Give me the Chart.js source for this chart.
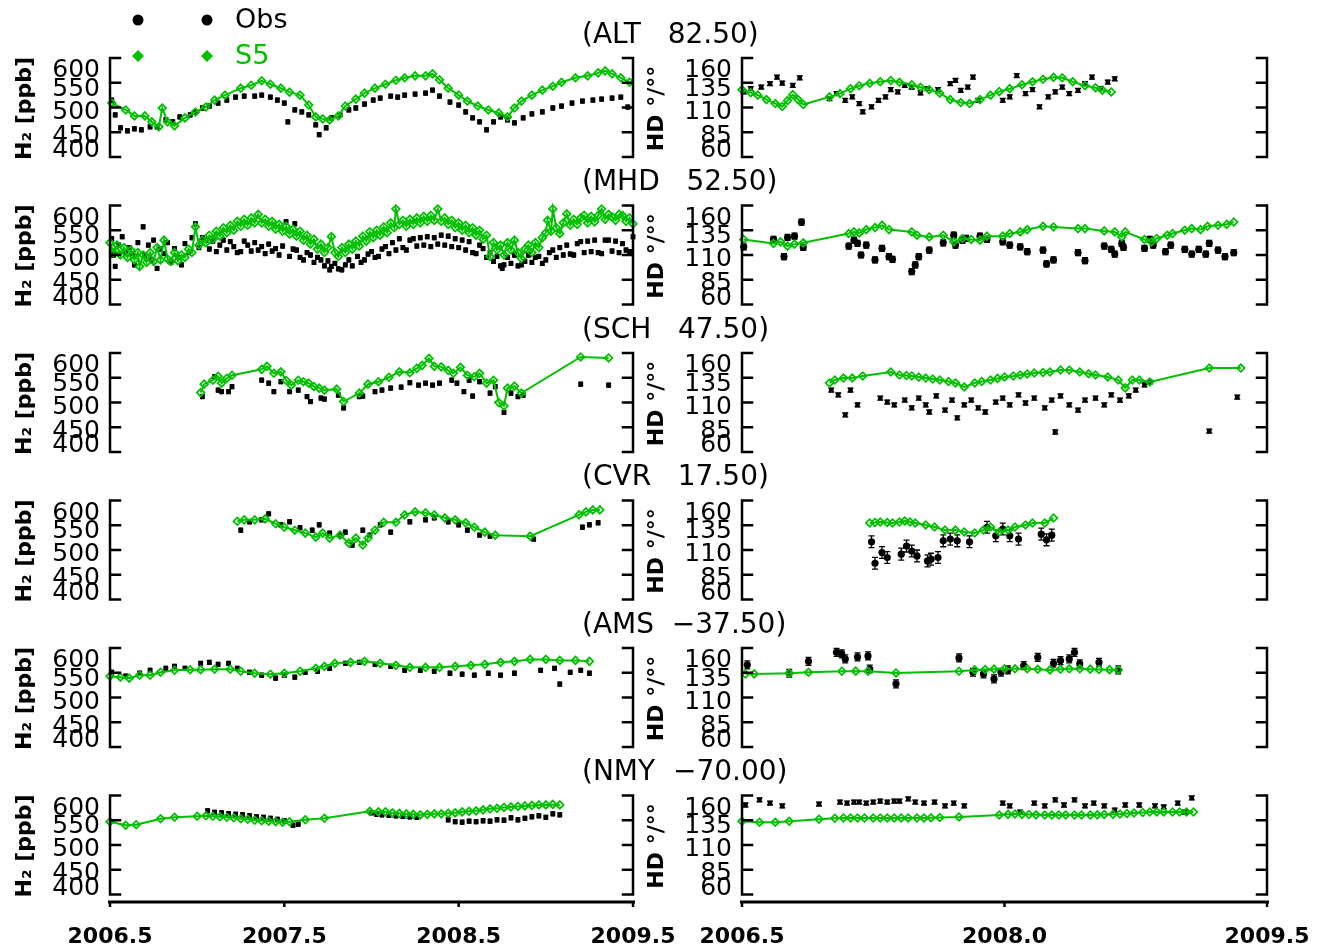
<!DOCTYPE html>
<html><head><meta charset="utf-8">
<script src="https://cdn.jsdelivr.net/npm/chart.js@4.4.1/dist/chart.umd.min.js"></script>
<style>
html,body{margin:0;padding:0;background:#fff;}
#wrap{position:relative;width:1326px;height:952px;overflow:hidden;background:#fff;}
#wrap canvas{position:absolute;left:0;top:0;}
</style>
</head><body><div id="wrap"></div>
<script>
// ---------- data ----------
const XMIN = 2006.5, XMAX = 2009.5;
const h2Ticks = [400, 450, 500, 550, 600];
const hdTicks = [60, 85, 110, 135, 160];
const xTicksLeft = [2006.5, 2007.5, 2008.5, 2009.5];
const xTicksRight = [2006.5, 2008.0, 2009.5];
const xTickLabelsLeft = ['2006.5', '2007.5', '2008.5', '2009.5'];
const xTickLabelsRight = ['2006.5', '2008.0', '2009.5'];
const stations = ['ALT', 'MHD', 'SCH', 'CVR', 'AMS', 'NMY'];
const latitudes = [82.50, 52.50, 47.50, 17.50, -37.50, -70.00];
const seriesNames = ['Obs', 'S5'];
const h2AxisTitle = 'H\u2082 [ppb]';
const hdAxisTitle = 'HD \u00b0/\u00b0\u00b0';
const h2ObsErr = [4, 4, 4, 4, 4, 4];
const hdObsErr = [2, 3, 2, 6, 4, 2];

// ALT
const ALT_H2_OBS = [[2006.51,515],[2006.53,485],[2006.56,459],[2006.60,453],[2006.64,457],[2006.68,455],[2006.73,461],[2006.77,461],[2006.82,475],[2006.86,471],[2006.90,481],[2006.96,485],[2006.99,491],[2007.03,499],[2007.07,503],[2007.12,509],[2007.17,515],[2007.22,521],[2007.27,523],[2007.33,523],[2007.37,525],[2007.42,521],[2007.46,515],[2007.50,509],[2007.52,471],[2007.56,495],[2007.60,491],[2007.64,485],[2007.68,465],[2007.70,445],[2007.74,459],[2007.77,479],[2007.82,485],[2007.87,495],[2007.91,499],[2007.96,507],[2008.01,515],[2008.05,519],[2008.11,523],[2008.15,521],[2008.19,525],[2008.25,527],[2008.31,529],[2008.35,535],[2008.39,523],[2008.45,511],[2008.50,505],[2008.54,491],[2008.58,479],[2008.62,471],[2008.66,455],[2008.70,471],[2008.74,481],[2008.78,475],[2008.82,469],[2008.87,479],[2008.92,487],[2008.98,491],[2009.04,499],[2009.09,503],[2009.15,509],[2009.21,513],[2009.27,515],[2009.32,517],[2009.38,519],[2009.43,521],[2009.47,501]];
const ALT_H2_S5 = [[2006.51,509],[2006.59,495],[2006.64,483],[2006.70,483],[2006.74,471],[2006.78,461],[2006.80,499],[2006.83,471],[2006.87,463],[2006.93,479],[2006.99,491],[2007.05,501],[2007.10,515],[2007.16,525],[2007.25,539],[2007.31,545],[2007.37,554],[2007.42,547],[2007.48,539],[2007.53,531],[2007.59,525],[2007.64,505],[2007.68,481],[2007.72,477],[2007.76,475],[2007.81,483],[2007.85,503],[2007.91,517],[2007.96,529],[2008.02,539],[2008.08,547],[2008.14,555],[2008.19,560],[2008.25,564],[2008.31,564],[2008.35,568],[2008.39,556],[2008.44,539],[2008.50,525],[2008.55,513],[2008.61,503],[2008.67,495],[2008.73,489],[2008.78,481],[2008.82,499],[2008.86,513],[2008.92,525],[2008.98,535],[2009.04,543],[2009.09,551],[2009.17,560],[2009.24,564],[2009.30,570],[2009.34,574],[2009.38,568],[2009.43,560],[2009.48,551]];
const ALT_HD_OBS = [[2006.51,125.7],[2006.55,129],[2006.61,130.7],[2006.66,134],[2006.70,140.7],[2006.73,134.7],[2006.79,132.3],[2006.83,140],[2007.00,119],[2007.04,124],[2007.09,117.3],[2007.13,120.7],[2007.17,114],[2007.19,105.7],[2007.24,110.7],[2007.28,117.3],[2007.32,120.7],[2007.35,128],[2007.39,125.7],[2007.43,132.3],[2007.47,130.7],[2007.52,124.7],[2007.56,129],[2007.62,128],[2007.69,134],[2007.72,137.3],[2007.75,127.3],[2007.79,130.7],[2007.82,140.7],[2007.85,117.3],[2007.99,117.3],[2008.03,120.7],[2008.07,142.3],[2008.12,124],[2008.16,128],[2008.20,110.7],[2008.25,120.7],[2008.29,125.7],[2008.33,130.7],[2008.37,124],[2008.42,127.3],[2008.46,134],[2008.50,140.7],[2008.55,129],[2008.59,135.7],[2008.63,139]];
const ALT_HD_S5 = [[2006.50,128],[2006.55,125],[2006.59,122.5],[2006.64,118],[2006.69,114],[2006.73,111],[2006.76,117],[2006.79,123],[2006.82,118],[2006.85,113],[2007.00,120.7],[2007.06,124],[2007.12,129],[2007.17,132],[2007.23,134.5],[2007.29,136],[2007.35,137.3],[2007.40,135.5],[2007.47,133],[2007.52,130.5],[2007.57,128],[2007.63,124.5],[2007.69,118],[2007.75,115],[2007.80,114],[2007.86,118],[2007.92,122.5],[2007.97,126],[2008.03,129],[2008.10,133],[2008.16,136],[2008.22,138.5],[2008.28,140.5],[2008.33,140],[2008.39,136],[2008.46,132],[2008.52,130],[2008.56,127.5],[2008.61,125.7]];

// MHD
const MHD_H2_OBS = [[2006.51,533],[2006.52,500],[2006.53,477],[2006.55,520],[2006.57,537],[2006.59,505],[2006.61,515],[2006.63,503],[2006.64,480],[2006.66,525],[2006.69,557],[2006.70,500],[2006.72,520],[2006.74,490],[2006.75,530],[2006.77,473],[2006.79,512],[2006.81,503],[2006.83,525],[2006.85,485],[2006.87,513],[2006.89,495],[2006.91,480],[2006.93,523],[2006.95,505],[2006.97,535],[2006.99,563],[2007.01,515],[2007.03,535],[2007.05,530],[2007.07,512],[2007.09,528],[2007.11,507],[2007.13,520],[2007.15,530],[2007.17,510],[2007.19,527],[2007.21,517],[2007.23,505],[2007.25,507],[2007.27,528],[2007.29,520],[2007.31,508],[2007.33,525],[2007.35,510],[2007.37,517],[2007.39,503],[2007.41,522],[2007.43,508],[2007.45,513],[2007.47,500],[2007.49,518],[2007.51,567],[2007.53,497],[2007.55,512],[2007.56,563],[2007.57,510],[2007.59,495],[2007.61,490],[2007.63,505],[2007.65,500],[2007.67,485],[2007.69,495],[2007.71,490],[2007.73,478],[2007.75,488],[2007.76,470],[2007.77,477],[2007.79,483],[2007.81,472],[2007.83,470],[2007.85,480],[2007.87,490],[2007.89,478],[2007.92,497],[2007.94,485],[2007.96,490],[2007.98,502],[2008.00,507],[2008.02,495],[2008.04,497],[2008.06,512],[2008.08,517],[2008.10,503],[2008.12,525],[2008.14,510],[2008.16,533],[2008.18,515],[2008.20,510],[2008.22,530],[2008.24,533],[2008.26,518],[2008.28,535],[2008.30,520],[2008.32,537],[2008.34,517],[2008.36,535],[2008.38,522],[2008.40,540],[2008.42,520],[2008.44,538],[2008.46,517],[2008.48,533],[2008.50,515],[2008.52,530],[2008.54,510],[2008.56,527],[2008.58,505],[2008.60,503],[2008.62,520],[2008.64,513],[2008.66,495],[2008.68,505],[2008.70,487],[2008.72,497],[2008.74,478],[2008.75,473],[2008.76,480],[2008.78,495],[2008.80,483],[2008.82,500],[2008.84,478],[2008.86,480],[2008.88,487],[2008.90,500],[2008.92,485],[2008.94,495],[2008.96,497],[2008.98,483],[2009.00,490],[2009.02,505],[2009.04,510],[2009.06,495],[2009.08,515],[2009.10,500],[2009.12,520],[2009.14,502],[2009.16,500],[2009.18,523],[2009.20,527],[2009.22,505],[2009.24,528],[2009.26,507],[2009.28,530],[2009.30,505],[2009.32,503],[2009.34,530],[2009.36,530],[2009.38,508],[2009.40,528],[2009.42,505],[2009.44,523],[2009.46,510],[2009.48,507],[2009.50,537]];
const MHD_H2_S5 = [[2006.50,525],[2006.52,505],[2006.54,520],[2006.56,500],[2006.58,515],[2006.60,495],[2006.62,510],[2006.64,490],[2006.66,505],[2006.67,477],[2006.69,500],[2006.71,485],[2006.73,505],[2006.75,487],[2006.77,515],[2006.79,490],[2006.81,530],[2006.83,492],[2006.85,487],[2006.87,505],[2006.89,488],[2006.91,500],[2006.93,495],[2006.95,512],[2006.97,505],[2006.99,557],[2007.01,520],[2007.03,530],[2007.05,525],[2007.07,540],[2007.09,532],[2007.11,548],[2007.13,538],[2007.15,555],[2007.17,545],[2007.19,560],[2007.21,550],[2007.23,568],[2007.25,558],[2007.27,572],[2007.29,560],[2007.31,575],[2007.33,565],[2007.35,582],[2007.37,565],[2007.39,572],[2007.41,558],[2007.43,568],[2007.45,552],[2007.47,562],[2007.49,548],[2007.51,558],[2007.53,542],[2007.55,552],[2007.57,538],[2007.59,548],[2007.61,530],[2007.63,540],[2007.65,522],[2007.67,532],[2007.69,512],[2007.71,522],[2007.73,505],[2007.75,515],[2007.77,537],[2007.79,505],[2007.81,497],[2007.83,515],[2007.85,505],[2007.87,522],[2007.89,512],[2007.91,528],[2007.93,518],[2007.95,538],[2007.97,528],[2007.99,547],[2008.01,535],[2008.03,550],[2008.05,540],[2008.07,557],[2008.09,545],[2008.11,565],[2008.13,555],[2008.14,593],[2008.16,562],[2008.18,570],[2008.20,558],[2008.22,572],[2008.24,562],[2008.26,575],[2008.28,565],[2008.30,578],[2008.32,568],[2008.34,580],[2008.36,570],[2008.38,593],[2008.40,568],[2008.42,575],[2008.44,562],[2008.46,570],[2008.48,555],[2008.50,565],[2008.52,550],[2008.54,560],[2008.56,545],[2008.58,555],[2008.60,540],[2008.62,550],[2008.64,532],[2008.66,540],[2008.68,497],[2008.70,525],[2008.72,510],[2008.74,520],[2008.76,500],[2008.78,525],[2008.80,510],[2008.82,530],[2008.84,505],[2008.86,493],[2008.88,512],[2008.90,520],[2008.92,505],[2008.94,525],[2008.96,515],[2008.98,535],[2009.00,545],[2009.01,570],[2009.03,548],[2009.04,593],[2009.06,555],[2009.08,543],[2009.10,565],[2009.12,583],[2009.14,560],[2009.16,572],[2009.18,562],[2009.20,575],[2009.22,580],[2009.24,565],[2009.26,578],[2009.28,567],[2009.30,580],[2009.32,593],[2009.34,572],[2009.36,582],[2009.38,577],[2009.40,570],[2009.42,582],[2009.44,580],[2009.46,568],[2009.48,575],[2009.50,563]];
const MHD_HD_OBS = [[2006.51,118.3],[2006.68,125.7],[2006.74,108.3],[2006.76,127.7],[2006.80,129],[2006.84,143.3],[2006.85,117.7],[2007.11,119],[2007.14,125],[2007.16,121.7],[2007.18,110],[2007.21,120],[2007.26,105],[2007.30,116.7],[2007.34,108.3],[2007.36,105.7],[2007.47,93.3],[2007.49,100],[2007.51,108.3],[2007.57,115],[2007.65,122.3],[2007.71,130],[2007.72,120],[2007.76,125],[2007.78,126.7],[2007.86,129],[2007.90,125.7],[2007.99,123.3],[2008.03,120],[2008.09,118.3],[2008.13,113.3],[2008.22,115],[2008.24,101],[2008.28,105],[2008.42,112.3],[2008.46,104.3],[2008.57,119],[2008.61,115.7],[2008.63,111],[2008.67,121.7],[2008.68,117.7],[2008.80,116.7],[2008.83,125.7],[2008.85,120],[2008.92,113.3],[2008.95,120],[2009.03,115.7],[2009.07,111],[2009.11,115.7],[2009.15,111],[2009.17,121.7],[2009.22,115],[2009.26,108.3],[2009.31,112.3]];
const MHD_HD_S5 = [[2006.51,125.7],[2006.68,121.7],[2006.72,123.3],[2006.76,119],[2006.80,121],[2006.85,122.3],[2007.11,131.7],[2007.14,133.3],[2007.17,132.3],[2007.21,135.7],[2007.26,137.7],[2007.30,140],[2007.34,135.7],[2007.47,133.3],[2007.50,130],[2007.57,128.3],[2007.65,130],[2007.71,123.3],[2007.76,126.7],[2007.81,125.7],[2007.86,125],[2007.90,129],[2007.99,129],[2008.03,131.7],[2008.09,133.3],[2008.13,135.7],[2008.22,139],[2008.28,138.3],[2008.42,136.7],[2008.46,136.7],[2008.57,134.3],[2008.63,133.3],[2008.67,128.3],[2008.69,133.3],[2008.80,125.7],[2008.84,123.3],[2008.87,126.7],[2008.93,130],[2008.96,131.7],[2009.03,135],[2009.07,136.7],[2009.12,135.7],[2009.16,139],[2009.22,140],[2009.27,141],[2009.31,143.3]];

// SCH
const SCH_H2_OBS = [[2007.03,512],[2007.10,552],[2007.12,525],[2007.14,522],[2007.18,522],[2007.20,532],[2007.37,545],[2007.41,539],[2007.44,522],[2007.48,542],[2007.53,522],[2007.58,525],[2007.63,512],[2007.65,502],[2007.71,509],[2007.73,507],[2007.81,515],[2007.84,489],[2007.93,512],[2007.95,513],[2008.02,522],[2008.06,525],[2008.11,529],[2008.17,531],[2008.22,540],[2008.27,535],[2008.31,539],[2008.35,535],[2008.39,539],[2008.46,545],[2008.49,539],[2008.53,522],[2008.56,545],[2008.58,513],[2008.62,542],[2008.68,519],[2008.71,532],[2008.76,480],[2008.80,519],[2008.84,512],[2008.87,515],[2009.20,537],[2009.36,535]];
const SCH_H2_S5 = [[2007.02,520],[2007.04,537],[2007.09,545],[2007.12,553],[2007.14,539],[2007.17,549],[2007.20,555],[2007.37,567],[2007.40,573],[2007.44,559],[2007.48,562],[2007.51,545],[2007.54,535],[2007.58,545],[2007.61,542],[2007.64,539],[2007.67,532],[2007.70,529],[2007.73,525],[2007.80,527],[2007.84,502],[2007.93,519],[2007.98,537],[2008.04,542],[2008.10,551],[2008.16,562],[2008.22,560],[2008.26,569],[2008.29,575],[2008.33,589],[2008.36,573],[2008.40,572],[2008.44,565],[2008.47,559],[2008.51,571],[2008.55,555],[2008.59,552],[2008.62,559],[2008.66,539],[2008.70,545],[2008.73,500],[2008.76,493],[2008.78,529],[2008.82,533],[2008.86,519],[2009.20,592],[2009.36,590]];
const SCH_HD_OBS = [[2007.01,122.6],[2007.05,117.6],[2007.09,97.4],[2007.12,122.6],[2007.16,107.5],[2007.29,114.5],[2007.33,110.5],[2007.37,107.5],[2007.43,112.5],[2007.47,104.5],[2007.51,114.5],[2007.55,107.5],[2007.57,100.4],[2007.61,116.6],[2007.66,102.4],[2007.70,112.5],[2007.73,94.4],[2007.77,107.5],[2007.81,112.5],[2007.85,104.5],[2007.89,100.4],[2007.95,110.5],[2007.99,114.5],[2008.03,107.5],[2008.08,117.6],[2008.12,109.5],[2008.17,114.5],[2008.23,104.5],[2008.27,112.5],[2008.29,80.2],[2008.32,116.6],[2008.37,107.5],[2008.42,102.4],[2008.46,112.5],[2008.52,114.5],[2008.57,107.5],[2008.61,117.6],[2008.66,112.5],[2008.71,116.6],[2008.75,122.6],[2008.80,127.7],[2008.83,130.7],[2009.17,81.2],[2009.33,115.5]];
const SCH_HD_S5 = [[2007.00,129.7],[2007.03,132.7],[2007.08,134.7],[2007.13,134.7],[2007.19,136.8],[2007.35,140.8],[2007.40,137.8],[2007.44,137.3],[2007.47,136.8],[2007.51,135.7],[2007.55,134.7],[2007.59,133.7],[2007.63,132.7],[2007.68,131.2],[2007.72,129.7],[2007.77,125.7],[2007.83,129.7],[2007.87,131.2],[2007.92,132.7],[2007.96,134.3],[2008.00,135.8],[2008.05,136.8],[2008.09,137.8],[2008.13,138.8],[2008.17,139.8],[2008.22,140.3],[2008.26,140.8],[2008.32,142.8],[2008.37,142.8],[2008.43,140.8],[2008.48,139],[2008.52,137.8],[2008.59,135.8],[2008.65,132.7],[2008.69,124.7],[2008.73,132.7],[2008.77,132.7],[2008.83,130.7],[2009.17,144.8],[2009.35,144.8]];

// CVR
const CVR_H2_OBS = [[2007.25,540],[2007.30,557],[2007.37,561],[2007.41,573],[2007.48,551],[2007.53,557],[2007.59,545],[2007.66,540],[2007.70,551],[2007.76,534],[2007.82,530],[2007.85,536],[2007.89,510],[2007.95,540],[2007.99,530],[2008.05,551],[2008.11,536],[2008.22,557],[2008.31,561],[2008.36,565],[2008.44,557],[2008.50,551],[2008.55,540],[2008.62,530],[2008.68,528],[2008.93,522],[2009.21,546],[2009.25,551],[2009.30,555]];
const CVR_H2_S5 = [[2007.23,558],[2007.27,561],[2007.33,561],[2007.39,563],[2007.45,553],[2007.50,546],[2007.56,540],[2007.62,534],[2007.68,526],[2007.72,534],[2007.76,524],[2007.82,530],[2007.87,514],[2007.91,524],[2007.95,510],[2007.98,524],[2008.02,540],[2008.07,556],[2008.14,556],[2008.19,571],[2008.25,577],[2008.31,575],[2008.36,571],[2008.42,565],[2008.48,561],[2008.54,555],[2008.59,546],[2008.65,536],[2008.71,530],[2008.91,528],[2009.19,571],[2009.23,577],[2009.27,581],[2009.31,581]];
const CVR_HD_OBS = [[2007.24,118.3],[2007.26,96.6],[2007.30,107.5],[2007.33,102.4],[2007.41,105.8],[2007.44,114],[2007.47,109],[2007.50,104],[2007.56,99],[2007.58,100.7],[2007.62,102.4],[2007.65,119.3],[2007.69,121],[2007.73,119.3],[2007.80,118.3],[2007.90,133],[2007.95,124.4],[2007.99,131.2],[2008.03,124.4],[2008.08,121],[2008.21,126],[2008.24,120.3],[2008.27,125]];
const CVR_HD_S5 = [[2007.23,137.3],[2007.26,137.8],[2007.29,138.3],[2007.33,137.8],[2007.36,137.3],[2007.40,138.3],[2007.43,139.3],[2007.46,138.3],[2007.49,137.3],[2007.55,135.3],[2007.60,133.2],[2007.66,130.2],[2007.72,130.2],[2007.77,128.2],[2007.83,127.2],[2007.88,130.2],[2007.92,133.2],[2007.97,128.2],[2008.02,130.2],[2008.06,133.2],[2008.12,135.3],[2008.16,137.3],[2008.23,137.3],[2008.28,142.3]];

// AMS
const AMS_H2_OBS = [[2006.51,551],[2006.59,543],[2006.67,549],[2006.73,555],[2006.82,559],[2006.87,563],[2006.93,559],[2007.02,569],[2007.07,571],[2007.12,567],[2007.18,569],[2007.23,559],[2007.30,551],[2007.37,545],[2007.45,539],[2007.50,545],[2007.56,541],[2007.62,551],[2007.69,553],[2007.76,559],[2007.85,569],[2007.93,571],[2008.02,567],[2008.11,563],[2008.19,555],[2008.28,555],[2008.36,553],[2008.45,549],[2008.52,547],[2008.59,545],[2008.67,549],[2008.74,545],[2008.82,549],[2008.97,555],[2009.05,559],[2009.08,527],[2009.14,551],[2009.20,555],[2009.25,549]];
const AMS_H2_S5 = [[2006.50,543],[2006.56,541],[2006.61,539],[2006.67,545],[2006.73,545],[2006.79,551],[2006.87,555],[2006.96,556],[2007.02,556],[2007.10,557],[2007.19,557],[2007.25,553],[2007.33,549],[2007.42,547],[2007.50,549],[2007.59,553],[2007.68,559],[2007.73,563],[2007.79,569],[2007.88,571],[2007.96,573],[2008.05,569],[2008.14,565],[2008.22,561],[2008.31,561],[2008.39,561],[2008.48,563],[2008.57,565],[2008.65,567],[2008.74,571],[2008.82,573],[2008.91,577],[2009.00,577],[2009.08,575],[2009.17,575],[2009.25,573]];
const AMS_HD_OBS = [[2006.53,143],[2006.77,134.5],[2006.88,146.6],[2007.04,155.6],[2007.07,154],[2007.09,149],[2007.16,151],[2007.22,152],[2007.23,138.8],[2007.38,123.8],[2007.74,150],[2007.82,135.5],[2007.88,133.8],[2007.94,128.8],[2007.98,135.5],[2008.02,137.9],[2008.11,142.2],[2008.19,150.6],[2008.28,144.6],[2008.32,147.3],[2008.37,149],[2008.40,155.6],[2008.43,143.9],[2008.54,145.6],[2008.65,137.9]];
const AMS_HD_S5 = [[2006.52,133.7],[2006.57,133.8],[2006.77,134.5],[2006.88,135.5],[2007.07,136.5],[2007.15,136.6],[2007.22,136.5],[2007.38,134.8],[2007.74,136.5],[2007.83,137.9],[2007.89,138.3],[2007.94,138.6],[2008.00,139],[2008.06,139],[2008.13,139],[2008.19,138.5],[2008.26,137.9],[2008.32,138.5],[2008.37,139],[2008.43,139],[2008.49,138.6],[2008.54,138.3],[2008.60,138.1],[2008.65,137.9]];

// NMY
const NMY_H2_OBS = [[2007.06,569],[2007.10,566],[2007.14,565],[2007.18,563],[2007.22,562],[2007.26,561],[2007.30,559],[2007.34,557],[2007.38,556],[2007.42,554],[2007.46,552],[2007.50,549],[2007.55,540],[2007.58,542],[2008.00,565],[2008.03,562],[2008.06,561],[2008.10,560],[2008.14,559],[2008.18,558],[2008.22,557],[2008.26,556],[2008.44,551],[2008.48,547],[2008.52,546],[2008.56,548],[2008.60,547],[2008.64,549],[2008.68,548],[2008.72,551],[2008.76,550],[2008.80,555],[2008.84,551],[2008.88,554],[2008.92,557],[2008.96,559],[2009.00,556],[2009.04,563],[2009.08,561]];
const NMY_H2_S5 = [[2006.50,547],[2006.59,540],[2006.65,541],[2006.79,553],[2006.87,556],[2007.00,558],[2007.05,559],[2007.09,558],[2007.13,557],[2007.17,556],[2007.21,555],[2007.25,553],[2007.29,552],[2007.33,550],[2007.37,549],[2007.41,548],[2007.45,547],[2007.49,546],[2007.53,547],[2007.62,551],[2007.73,554],[2007.99,568],[2008.04,567],[2008.08,567],[2008.12,565],[2008.16,564],[2008.20,563],[2008.24,562],[2008.28,561],[2008.32,562],[2008.36,563],[2008.40,563],[2008.44,564],[2008.48,565],[2008.52,567],[2008.56,568],[2008.60,569],[2008.64,571],[2008.68,573],[2008.72,574],[2008.76,576],[2008.80,577],[2008.84,578],[2008.88,579],[2008.92,580],[2008.96,581],[2009.00,581],[2009.04,582],[2009.08,581]];
const NMY_HD_OBS = [[2006.52,150.4],[2006.60,155.5],[2006.66,152.4],[2006.73,149.4],[2006.94,151.4],[2007.06,153.4],[2007.10,152.4],[2007.14,153.4],[2007.17,153.4],[2007.21,152.4],[2007.25,153.4],[2007.29,154.4],[2007.33,153.4],[2007.37,154.4],[2007.40,154.4],[2007.45,156.5],[2007.49,153.4],[2007.54,152.4],[2007.60,153.4],[2007.66,149.4],[2007.71,152.4],[2007.77,149.4],[2007.99,152.4],[2008.03,149.4],[2008.09,143.3],[2008.17,152.4],[2008.23,149.4],[2008.29,155.5],[2008.34,150.4],[2008.40,155.5],[2008.46,149.4],[2008.51,152.4],[2008.57,149.4],[2008.63,145.3],[2008.69,150.4],[2008.77,150.4],[2008.86,149.4],[2008.91,148.4],[2008.99,152.4],[2009.03,143.3],[2009.07,157.5]];
const NMY_HD_S5 = [[2006.50,134],[2006.60,133],[2006.69,133],[2006.77,134],[2006.94,136],[2007.03,137],[2007.08,137.3],[2007.12,137.3],[2007.16,137.3],[2007.20,137.3],[2007.25,137.3],[2007.29,137.3],[2007.33,137.3],[2007.37,137.3],[2007.41,137.3],[2007.45,137.3],[2007.50,137.3],[2007.54,137.3],[2007.58,137.5],[2007.63,137.8],[2007.74,138.3],[2007.97,140.3],[2008.02,141],[2008.06,141.3],[2008.10,141],[2008.14,140.8],[2008.18,140.5],[2008.23,140.3],[2008.27,140.3],[2008.31,140.3],[2008.35,140.3],[2008.40,140.3],[2008.44,140.3],[2008.49,140.3],[2008.53,140.5],[2008.57,140.8],[2008.62,141],[2008.66,141.3],[2008.70,141.8],[2008.74,142.3],[2008.79,142.8],[2008.83,143.3],[2008.87,143.3],[2008.91,143.3],[2008.96,143.3],[2009.00,143.3],[2009.04,143.3],[2009.08,143.3]];

const H2_OBS = [ALT_H2_OBS, MHD_H2_OBS, SCH_H2_OBS, CVR_H2_OBS, AMS_H2_OBS, NMY_H2_OBS];
const H2_S5  = [ALT_H2_S5, MHD_H2_S5, SCH_H2_S5, CVR_H2_S5, AMS_H2_S5, NMY_H2_S5];
const HD_OBS = [ALT_HD_OBS, MHD_HD_OBS, SCH_HD_OBS, CVR_HD_OBS, AMS_HD_OBS, NMY_HD_OBS];
const HD_S5  = [ALT_HD_S5, MHD_HD_S5, SCH_HD_S5, CVR_HD_S5, AMS_HD_S5, NMY_HD_S5];

// ---------- layout & style ----------
const W = 1326, H = 952;
const L_X0 = 110, L_X1 = 633, R_X0 = 742, R_X1 = 1267;
const ROW_TOP0 = 58, ROW_STEP = 147.5, ROW_H = 99;
const GREEN = '#00c000';
const FONT = '"DejaVu Sans", "Liberation Sans", sans-serif';
const rightObsStyle = ['rect', 'circle', 'rect', 'circle', 'circle', 'rect'];

function capText(ctx, txt, x, cy, size) {
  ctx.fillText(txt, x, cy + size * 0.729 / 2);
}

function makeDeco(info) {
  return {
    id: 'deco' + info.row + info.side,
    beforeDatasetsDraw(chart) {
      const ctx = chart.ctx, xs = chart.scales.x, ys = chart.scales.y;
      ctx.save();
      ctx.strokeStyle = '#000'; ctx.lineWidth = 1.3;
      ctx.beginPath();
      for (const p of info.obs) {
        const px = xs.getPixelForValue(p[0]);
        const a = ys.getPixelForValue(p[1] - info.err), b = ys.getPixelForValue(p[1] + info.err);
        ctx.moveTo(px, a); ctx.lineTo(px, b);
        ctx.moveTo(px - info.cap, a); ctx.lineTo(px + info.cap, a);
        ctx.moveTo(px - info.cap, b); ctx.lineTo(px + info.cap, b);
      }
      ctx.stroke();
      ctx.restore();
    },
    afterDraw(chart) {
      const ctx = chart.ctx, xs = chart.scales.x, ys = chart.scales.y, ca = chart.chartArea;
      ctx.save();
      ctx.strokeStyle = '#000'; ctx.lineWidth = 2.5; ctx.lineCap = 'square';
      ctx.beginPath();
      ctx.moveTo(ca.left, ca.top); ctx.lineTo(ca.left, ca.bottom);
      ctx.moveTo(ca.right, ca.top); ctx.lineTo(ca.right, ca.bottom);
      for (const v of info.yTicks) {
        const py = ys.getPixelForValue(v);
        ctx.moveTo(ca.left, py); ctx.lineTo(ca.left + 10, py);
        ctx.moveTo(ca.right, py); ctx.lineTo(ca.right - 10, py);
      }
      ctx.stroke();
      ctx.fillStyle = '#000';
      ctx.font = '25px ' + FONT; ctx.textAlign = 'right'; ctx.textBaseline = 'alphabetic';
      const sorted = [...info.yTicks].sort((a, b) => b - a);
      const off = [10, 4, 2, 1.5, -9];
      sorted.forEach((v, i) => {
        capText(ctx, String(v), ca.left - 10, ys.getPixelForValue(v) + off[i], 25);
      });
      ctx.save();
      ctx.translate(info.yTitleX, (ca.top + ca.bottom) / 2 + 1);
      ctx.rotate(-Math.PI / 2);
      ctx.font = 'bold 22px ' + FONT; ctx.textAlign = 'center'; ctx.textBaseline = 'middle';
      ctx.fillText(info.yTitle, 0, 0);
      ctx.restore();
      if (info.title) {
        ctx.font = '28px ' + FONT; ctx.textAlign = 'left'; ctx.textBaseline = 'alphabetic';
        capText(ctx, info.title, 582, ca.top - 25.5, 28);
      }
      if (info.bottom) {
        const yb = 902;
        ctx.lineWidth = 3; ctx.lineCap = 'butt';
        ctx.beginPath();
        ctx.moveTo(ca.left - 2, yb); ctx.lineTo(ca.right + 2, yb);
        ctx.stroke();
        ctx.lineWidth = 2.5;
        ctx.beginPath();
        info.xTicks.forEach(t => {
          const px = xs.getPixelForValue(t);
          ctx.moveTo(px, yb); ctx.lineTo(px, yb + 5);
        });
        ctx.stroke();
        ctx.font = 'bold 22px ' + FONT; ctx.textAlign = 'center';
        info.xTicks.forEach((t, i) => {
          capText(ctx, info.xLabels[i], xs.getPixelForValue(t), 934.5, 22);
        });
      }
      if (info.legend) {
        ctx.fillStyle = '#000';
        [138, 207].forEach(x => { ctx.beginPath(); ctx.arc(x, 20, 5.5, 0, Math.PI * 2); ctx.fill(); });
        ctx.font = '27px ' + FONT; ctx.textAlign = 'left';
        capText(ctx, seriesNames[0], 235, 18, 27);
        ctx.fillStyle = GREEN;
        [138, 207].forEach(x => {
          ctx.beginPath(); ctx.moveTo(x, 50); ctx.lineTo(x + 6, 56); ctx.lineTo(x, 62); ctx.lineTo(x - 6, 56); ctx.closePath(); ctx.fill();
        });
        capText(ctx, seriesNames[1], 235, 54, 27);
      }
      ctx.restore();
    }
  };
}

function fmtTitle(st, lat) {
  const s = lat.toFixed(2).replace('-', '\u2212');
  return '(' + st + (lat < 0 ? '  ' : '   ') + s + ')';
}

const wrap = document.getElementById('wrap');
for (let r = 0; r < 6; r++) {
  for (const side of ['L', 'R']) {
    const cv = document.createElement('canvas');
    cv.width = W; cv.height = H;
    wrap.appendChild(cv);
    const left = side === 'L';
    const x0 = left ? L_X0 : R_X0, x1 = left ? L_X1 : R_X1;
    const yTop = ROW_TOP0 + ROW_STEP * r, yBot = yTop + ROW_H;
    const obs = left ? H2_OBS[r] : HD_OBS[r];
    const s5 = left ? H2_S5[r] : HD_S5[r];
    const isCircle = !left && rightObsStyle[r] === 'circle';
    const info = {
      row: r, side, obs,
      err: left ? h2ObsErr[r] : hdObsErr[r],
      cap: left ? 2 : 3,
      yTicks: left ? h2Ticks : hdTicks,
      yTitle: left ? h2AxisTitle : hdAxisTitle,
      yTitleX: left ? 25 : 657,
      title: left ? fmtTitle(stations[r], latitudes[r]) : null,
      bottom: r === 5,
      xTicks: left ? xTicksLeft : xTicksRight,
      xLabels: left ? xTickLabelsLeft : xTickLabelsRight,
      legend: left && r === 0
    };
    new Chart(cv, {
      type: 'scatter',
      data: {
        datasets: [
          {
            label: seriesNames[1],
            data: s5.map(p => ({ x: p[0], y: p[1] })),
            showLine: true, borderColor: GREEN, borderWidth: 2,
            pointStyle: 'rectRot', pointRadius: 3.8, pointBorderColor: GREEN,
            pointBackgroundColor: 'rgba(255,255,255,0)', pointBorderWidth: 1.8,
            order: 0, clip: 8
          },
          {
            label: seriesNames[0],
            data: obs.map(p => ({ x: p[0], y: p[1] })),
            showLine: false,
            pointStyle: left ? 'rect' : rightObsStyle[r],
            pointRadius: left ? 3.5 : (isCircle ? 3.6 : 3.3),
            pointBackgroundColor: '#000', pointBorderColor: '#000', pointBorderWidth: 0,
            order: 1, clip: 8
          }
        ]
      },
      options: {
        responsive: false, animation: false, events: [],
        layout: { padding: { left: x0, right: W - x1, top: yTop, bottom: H - yBot } },
        scales: {
          x: { type: 'linear', min: XMIN, max: XMAX, display: false },
          y: { type: 'linear', min: left ? h2Ticks[0] : hdTicks[0], max: left ? h2Ticks[4] : hdTicks[4], display: false }
        },
        plugins: { legend: { display: false }, tooltip: { enabled: false } }
      },
      plugins: [makeDeco(info)]
    });
  }
}
</script>
</body></html>
